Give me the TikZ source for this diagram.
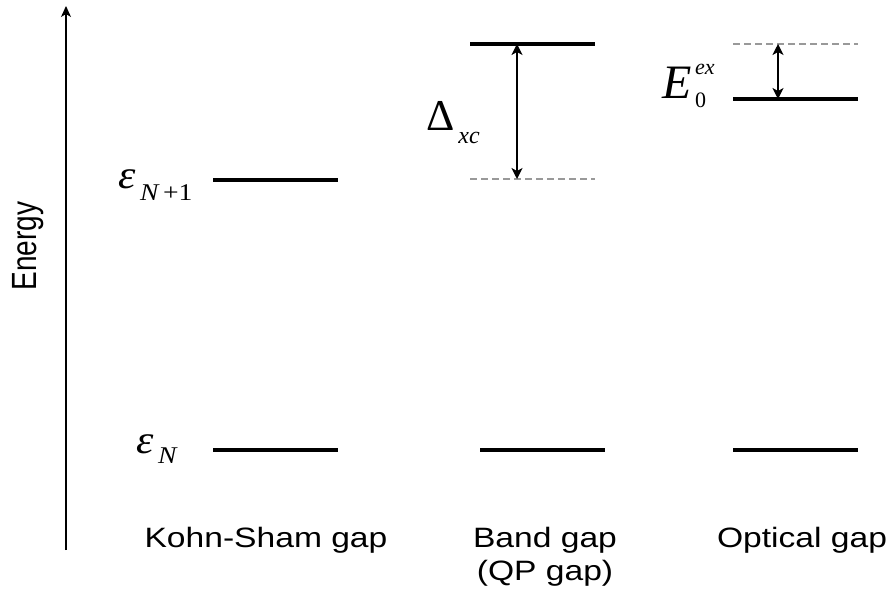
\documentclass[tikz,border=0pt]{standalone}
\usepackage{fontspec}
\setmainfont{Liberation Sans}
\newfontfamily\tms{Liberation Serif}
\usetikzlibrary{arrows.meta}
\begin{document}
\begin{tikzpicture}[x=1pt,y=-1pt,
  level/.style={line width=3.4pt},
  ghost/.style={line width=1.3pt, black!40, dash pattern=on 7pt off 4pt},
  gaparrow/.style={line width=1.4pt, {Stealth[length=11pt,width=11pt,inset=3pt]}-{Stealth[length=11pt,width=11pt,inset=3pt]}},
  lbl/.style={font=\fontsize{28}{32}\selectfont, inner sep=0pt},
  sym/.style={font=\tms\itshape, inner sep=0pt},
]
\useasboundingbox (0,0) rectangle (892,597);
% energy axis
\coordinate (ax0) at (66,550);
\coordinate (ax1) at (66,6);
\draw[line width=1.2pt, -{Stealth[length=11pt,width=10pt,inset=3pt]}] (ax0) -- (ax1);
\node[lbl, rotate=90] (energy) at (28,246) {\scalebox{1}[1.25]{Energy}};
% Kohn-Sham
\coordinate (ks1a) at (213,180); \coordinate (ks1b) at (338,180);
\coordinate (ks0a) at (213,450); \coordinate (ks0b) at (338,450);
\draw[level] (ks1a) -- (ks1b);
\draw[level] (ks0a) -- (ks0b);
% Band gap
\coordinate (bg1a) at (470,44); \coordinate (bg1b) at (595,44);
\coordinate (bgda) at (470,179); \coordinate (bgdb) at (595,179);
\coordinate (bg0a) at (480,450); \coordinate (bg0b) at (605,450);
\coordinate (bgt) at (517,44); \coordinate (bgb) at (517,179);
\draw[level] (bg1a) -- (bg1b);
\draw[ghost] (bgda) -- (bgdb);
\draw[level] (bg0a) -- (bg0b);
\draw[gaparrow] (bgt) -- (bgb);
% Optical gap
\coordinate (opda) at (733,44); \coordinate (opdb) at (858,44);
\coordinate (op1a) at (733,99); \coordinate (op1b) at (858,99);
\coordinate (op0a) at (733,450); \coordinate (op0b) at (858,450);
\coordinate (opt) at (778,44); \coordinate (opb) at (778,99);
\draw[ghost] (opda) -- (opdb);
\draw[level] (op1a) -- (op1b);
\draw[level] (op0a) -- (op0b);
\draw[gaparrow] (opt) -- (opb);
% symbols
\node[sym, anchor=base west] (epsN1) at (118,188)
  {\fontsize{40}{40}\selectfont\scalebox{1.1}[1]{ε}\raisebox{-12pt}{\fontsize{24}{24}\selectfont\scalebox{1.15}[1]{\,N\upshape\,+1}}};
\node[sym, anchor=base west] (epsN) at (136,453)
  {\fontsize{40}{40}\selectfont\scalebox{1.1}[1]{ε}\raisebox{-10pt}{\fontsize{24}{24}\selectfont\scalebox{1.15}[1]{\,N}}};
\node[sym, anchor=base west] (dxc) at (426,130)
  {\fontsize{44}{44}\selectfont\upshape Δ\raisebox{-13pt}{\fontsize{24}{24}\selectfont\itshape\,xc}};
\node[sym, anchor=base west] (e0ex) at (662,98)
  {\fontsize{48}{48}\selectfont E\rlap{\raisebox{24pt}{\fontsize{22}{22}\selectfont\,ex}}\raisebox{-9pt}{\fontsize{22}{22}\selectfont\upshape\,0}};
% captions
\node[lbl, anchor=base] (ksl) at (266,547) {\scalebox{1.2}[1]{Kohn-Sham gap}};
\node[lbl, anchor=base] (bgl) at (545,547) {\scalebox{1.2}[1]{Band gap}};
\node[lbl, anchor=base] (qpl) at (545,580) {\scalebox{1.2}[1]{(QP gap)}};
\node[lbl, anchor=base] (opl) at (802,547) {\scalebox{1.2}[1]{Optical gap}};
\end{tikzpicture}
\end{document}
